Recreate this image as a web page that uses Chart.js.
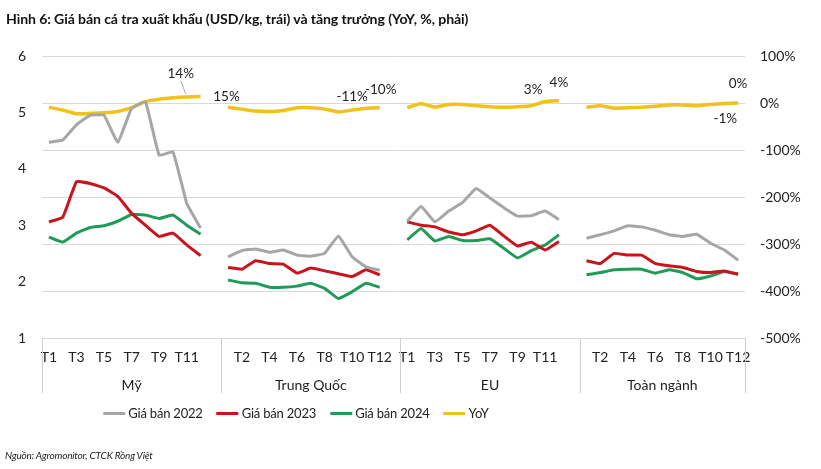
<!DOCTYPE html>
<html>
<head>
<meta charset="utf-8">
<script src="https://cdn.jsdelivr.net/npm/chart.js@4.4.1/dist/chart.umd.min.js"></script>
<style>
  body { margin: 0; background: #fff; }
  .wrap { position: relative; width: 821px; height: 469px; font-family: Lato, sans-serif; }
  .title { position: absolute; left: 6px; top: 10px; font-weight: bold; font-size: 14.1px; color: #111; white-space: nowrap; letter-spacing: -0.1px; }
  .source { position: absolute; left: 5px; top: 449px; font-style: italic; font-size: 10px; color: #222; white-space: nowrap; letter-spacing: -0.2px; }
  .legend { position: absolute; top: 405px; left: 296px; transform: translateX(-50%); display: flex; white-space: nowrap; font-size: 13px; color: #222; letter-spacing: -0.2px; }
  .legend span { display: flex; align-items: center; margin-right: 14px; }
  .legend span:last-child { margin-right: 0; }
  .legend i { display: inline-block; width: 22px; height: 3px; margin-right: 3px; }
  canvas { position: absolute; left: 0; top: 0; }
</style>
</head>
<body>
<div class="wrap">
  <canvas id="myChart" width="821" height="469"></canvas>
  <div class="title">Hình 6: Giá bán cá tra xuất khẩu (USD/kg, trái) và tăng trưởng (YoY, %, phải)</div>
  <div class="legend" id="legend"></div>
  <div class="source">Nguồn: Agromonitor, CTCK Rồng Việt</div>
</div>
<script>
const groups = ['Mỹ', 'Trung Quốc', 'EU', 'Toàn ngành'];
const months = ['T1', 'T2', 'T3', 'T4', 'T5', 'T6', 'T7', 'T8', 'T9', 'T10', 'T11', 'T12'];

// 12 thang cho moi nhom: My, Trung Quoc, EU, Toan nganh
const price2022 = [
  4.47, 4.51, 4.78, 4.95, 4.95, 4.47, 5.07, 5.19, 4.24, 4.30, 3.39, 2.95,
  2.44, 2.55, 2.58, 2.52, 2.56, 2.47, 2.45, 2.50, 2.81, 2.44, 2.26, 2.20,
  3.07, 3.33, 3.06, 3.25, 3.40, 3.65, 3.48, 3.31, 3.16, 3.17, 3.25, 3.10,
  2.77, 2.83, 2.90, 2.99, 2.97, 2.91, 2.83, 2.80, 2.84, 2.68, 2.56, 2.38
];
const price2023 = [
  3.06, 3.14, 3.77, 3.74, 3.66, 3.51, 3.21, 3.00, 2.80, 2.86, 2.65, 2.46,
  2.25, 2.22, 2.37, 2.32, 2.31, 2.15, 2.24, 2.19, 2.14, 2.09, 2.21, 2.12,
  3.06, 3.00, 2.97, 2.88, 2.83, 2.90, 3.00, 2.81, 2.63, 2.70, 2.56, 2.71,
  2.37, 2.32, 2.50, 2.47, 2.47, 2.32, 2.28, 2.25, 2.18, 2.16, 2.19, 2.13
];
const price2024 = [
  2.79, 2.70, 2.86, 2.96, 2.99, 3.07, 3.19, 3.18, 3.12, 3.18, 3.00, 2.84,
  2.03, 1.98, 1.97, 1.90, 1.90, 1.92, 1.97, 1.88, 1.70, 1.82, 1.97, 1.90,
  2.74, 2.94, 2.72, 2.80, 2.73, 2.73, 2.76, 2.59, 2.42, 2.55, 2.65, 2.83,
  2.12, 2.16, 2.21, 2.22, 2.22, 2.15, 2.21, 2.16, 2.05, 2.10, 2.18, 2.13
];
const yoy = [
  -9, -15, -23, -22, -21, -18, -10, 3, 8, 11, 13, 14,
  -9, -13, -17, -18, -16, -10, -10, -13, -19, -15, -11, -10,
  -10, -1, -9, -3, -3, -6, -8, -9, -8, -6, 3, 5,
  -9, -6, -11, -10, -9, -7, -4, -4, -6, -3, -1, 0
];

// nhan du lieu hien tren hinh: [chi so nhom, thang, text, dx, dy]
const yoyLabels = [
  [0, 10, '14%', -6, -23],
  [0, 11, '15%', 26, 0],
  [1, 9, '-11%', 0, -13],
  [1, 11, '-10%', 1, -18],
  [2, 10, '3%', -12, -12],
  [2, 11, '4%', 0, -18],
  [3, 11, '0%', 0, -19],
  [3, 10, '-1%', 1, 15]
];

const FONT = 'Lato, sans-serif';

// ghep cac nhom, chen 1 o trong giua cac nhom
const labels = [];
const groupStart = [];
groups.forEach((g, gi) => {
  groupStart.push(labels.length);
  months.forEach(m => labels.push(m));
  if (gi < groups.length - 1) labels.push('');
});

const withGaps = (arr) => {
  const out = [];
  groups.forEach((g, gi) => {
    for (let m = 0; m < 12; m++) out.push(arr[gi * 12 + m]);
    if (gi < groups.length - 1) out.push(null);
  });
  return out;
};

const makeSet = (label, arr, color, axis, width) => ({
  label: label,
  data: withGaps(arr),
  borderColor: color,
  backgroundColor: color,
  borderWidth: width,
  pointRadius: 0,
  pointHoverRadius: 0,
  tension: 0.1,
  spanGaps: false,
  yAxisID: axis
});

const groupAxis = {
  id: 'groupAxis',
  afterDraw(chart) {
    const ctx = chart.ctx;
    const x = chart.scales.x;
    const area = chart.chartArea;
    const bounds = [area.left];
    for (let gi = 1; gi < groups.length; gi++) {
      const gap = groupStart[gi] - 1;
      bounds.push(x.getPixelForValue(gap) + (x.getPixelForValue(gap + 1) - x.getPixelForValue(gap)) / 2);
    }
    bounds.push(area.right);
    ctx.save();
    ctx.strokeStyle = '#d0d0d0';
    ctx.lineWidth = 1;
    bounds.forEach(b => {
      ctx.beginPath();
      ctx.moveTo(Math.round(b) + 0.5, area.bottom);
      ctx.lineTo(Math.round(b) + 0.5, area.bottom + 55);
      ctx.stroke();
    });
    ctx.fillStyle = '#222';
    ctx.font = '14px ' + FONT;
    ctx.textAlign = 'center';
    ctx.textBaseline = 'middle';
    groups.forEach((g, gi) => {
      ctx.fillText(g, (bounds[gi] + bounds[gi + 1]) / 2, area.bottom + 47);
    });

    // nhan YoY
    const meta = chart.getDatasetMeta(3);
    ctx.font = '13.5px ' + FONT;
    yoyLabels.forEach(([gi, m, text, dx, dy]) => {
      const pt = meta.data[groupStart[gi] + m];
      ctx.fillText(text, pt.x + dx, pt.y + dy);
      if (text === '14%') {
        ctx.strokeStyle = '#a6a6a6';
        ctx.beginPath();
        ctx.moveTo(pt.x + dx, pt.y + dy + 7);
        ctx.lineTo(pt.x - 1, pt.y - 3);
        ctx.stroke();
      }
    });
    ctx.restore();
  }
};

const config = {
  type: 'line',
  data: {
    labels: labels,
    datasets: [
      makeSet('Giá bán 2022', price2022, '#a6a6a6', 'y', 3),
      makeSet('Giá bán 2023', price2023, '#c8141c', 'y', 3),
      makeSet('Giá bán 2024', price2024, '#1f9a57', 'y', 3),
      makeSet('YoY', yoy, '#f0c21b', 'y2', 3.5)
    ]
  },
  options: {
    responsive: false,
    animation: false,
    layout: { padding: { top: 56, left: 0, right: 0, bottom: 73 } },
    plugins: {
      legend: { display: false },
      tooltip: { enabled: false }
    },
    scales: {
      x: {
        offset: true,
        grid: { display: false, drawTicks: false },
        border: { display: false },
        ticks: {
          autoSkip: false,
          maxRotation: 0,
          padding: 11,
          color: '#222',
          font: { family: FONT, size: 14 },
          callback: (v, i) => (i % 2 === 0 ? labels[i] : '')
        },
        afterFit: s => { s.height = 58; }
      },
      y: {
        position: 'left',
        min: 1,
        max: 6,
        ticks: { stepSize: 1, padding: 16, color: '#222', font: { family: FONT, size: 14 } },
        grid: { display: false, drawTicks: false },
        border: { display: false },
        afterFit: s => { s.width = 42; }
      },
      y2: {
        position: 'right',
        min: -500,
        max: 100,
        ticks: {
          stepSize: 100,
          padding: 15,
          color: '#222',
          font: { family: FONT, size: 14 },
          callback: v => v + '%'
        },
        grid: { color: '#d9d9d9', drawTicks: false },
        border: { display: false },
        afterFit: s => { s.width = 76; }
      }
    }
  },
  plugins: [groupAxis]
};

const myChart = new Chart(document.getElementById('myChart'), config);

// chu thich HTML
const legendBox = document.getElementById('legend');
myChart.data.datasets.forEach(ds => {
  const item = document.createElement('span');
  const line = document.createElement('i');
  line.style.background = ds.borderColor;
  item.appendChild(line);
  item.appendChild(document.createTextNode(ds.label));
  legendBox.appendChild(item);
});
</script>
</body>
</html>
